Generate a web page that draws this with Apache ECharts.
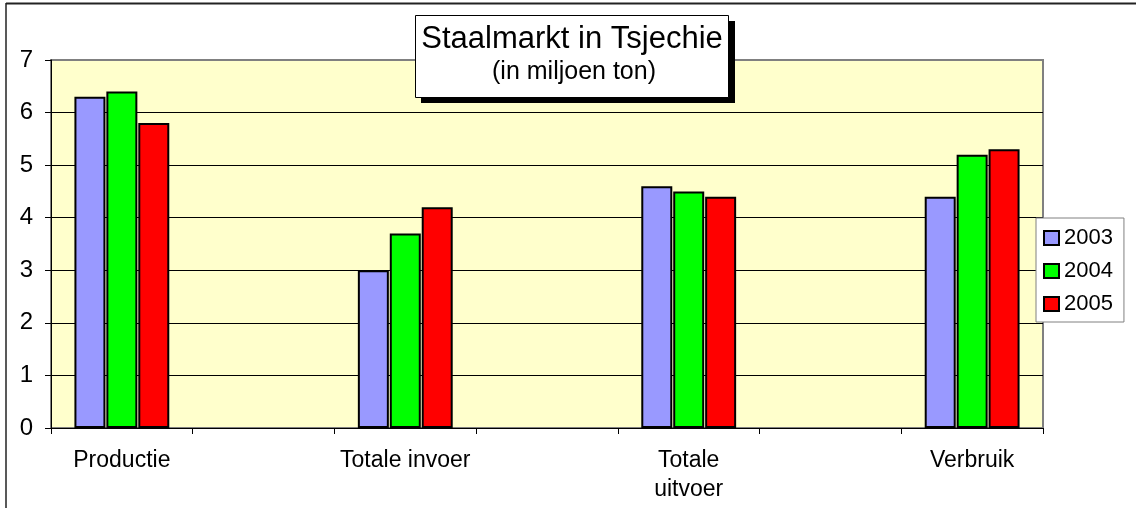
<!DOCTYPE html>
<html>
<head>
<meta charset="utf-8">
<script src="https://cdn.jsdelivr.net/npm/echarts@6/dist/echarts.min.js"></script>
<style>
html,body{margin:0;padding:0;background:#fff;}
#c{width:1136px;height:508px;}
</style>
</head>
<body>
<div id="c"></div>
<script>
const categories = ['Productie', '', 'Totale invoer', '', 'Totale\nuitvoer', '', 'Verbruik'];
const seriesNames = ['2003', '2004', '2005'];
const values2003 = [6.3, null, 3.0, null, 4.6, null, 4.4];
const values2004 = [6.4, null, 3.7, null, 4.5, null, 5.2];
const values2005 = [5.8, null, 4.2, null, 4.4, null, 5.3];
const yTicks = [0, 1, 2, 3, 4, 5, 6, 7];
const colors = ['#9999FF', '#00FF00', '#FF0000'];
const titleText = 'Staalmarkt in Tsjechie';
const subtitleText = '(in miljoen ton)';

const FONT = '"Liberation Sans", Arial, sans-serif';
const chart = echarts.init(document.getElementById('c'));
const allValues = [values2003, values2004, values2005];

chart.setOption({
  animation: false,
  backgroundColor: '#fff',
  textStyle: { fontFamily: FONT },
  grid: {
    left: 51, right: 93, top: 60, bottom: 80,
    show: true, backgroundColor: '#FFFFCC', borderColor: '#808080', borderWidth: 2
  },
  legend: {
    orient: 'vertical',
    left: 1036, top: 218,
    data: seriesNames,
    backgroundColor: '#fff',
    borderColor: '#808080', borderWidth: 1,
    padding: [9, 11, 7, 7],
    itemWidth: 15, itemHeight: 14, itemGap: 11,
    icon: 'rect',
    textStyle: { fontSize: 22, color: '#000', fontFamily: FONT },
    selectedMode: false
  },
  xAxis: {
    type: 'category',
    data: categories,
    axisLine: { lineStyle: { color: '#000', width: 1 } },
    axisTick: { show: true, length: 6, lineStyle: { color: '#000' } },
    axisLabel: { interval: 0, fontSize: 23, color: '#000', margin: 18, lineHeight: 29, fontFamily: FONT },
    splitLine: { show: false }
  },
  yAxis: {
    type: 'value',
    min: yTicks[0], max: yTicks[yTicks.length - 1], interval: 1,
    axisLine: { show: true, lineStyle: { color: '#000', width: 1 } },
    axisTick: { show: true, length: 6, lineStyle: { color: '#000' } },
    axisLabel: { fontSize: 24, color: '#000', margin: 18, fontFamily: FONT },
    splitLine: { show: true, lineStyle: { color: ['#000','#000','#000','#000','#000','#000','#000','#808080'], width: 1 } }
  },
  series: seriesNames.map((n, i) => ({
    name: n,
    type: 'bar',
    data: allValues[i],
    barWidth: 31,
    barGap: '3%',
    itemStyle: { color: colors[i], borderColor: '#000', borderWidth: 2 }
  })),
  graphic: [
    { type: 'line', shape: { x1: 6, y1: 3.5, x2: 1136, y2: 3.5 }, style: { stroke: '#222', lineWidth: 2 } },
    { type: 'line', shape: { x1: 6, y1: 3, x2: 6, y2: 508 }, style: { stroke: '#222', lineWidth: 1.5 } },
    { type: 'rect', shape: { x: 421, y: 21, width: 314, height: 82 }, style: { fill: '#000' }, z: 10 },
    { type: 'rect', shape: { x: 415.5, y: 15.5, width: 313, height: 82 }, style: { fill: '#fff', stroke: '#000', lineWidth: 1 }, z: 11 },
    { type: 'text', x: 572, y: 39, style: { text: titleText, fontSize: 31, fill: '#000', fontFamily: FONT, align: 'center', verticalAlign: 'middle' }, z: 12 },
    { type: 'text', x: 574, y: 72, style: { text: subtitleText, fontSize: 25, fill: '#000', fontFamily: FONT, align: 'center', verticalAlign: 'middle' }, z: 12 }
  ]
});
</script>
</body>
</html>
